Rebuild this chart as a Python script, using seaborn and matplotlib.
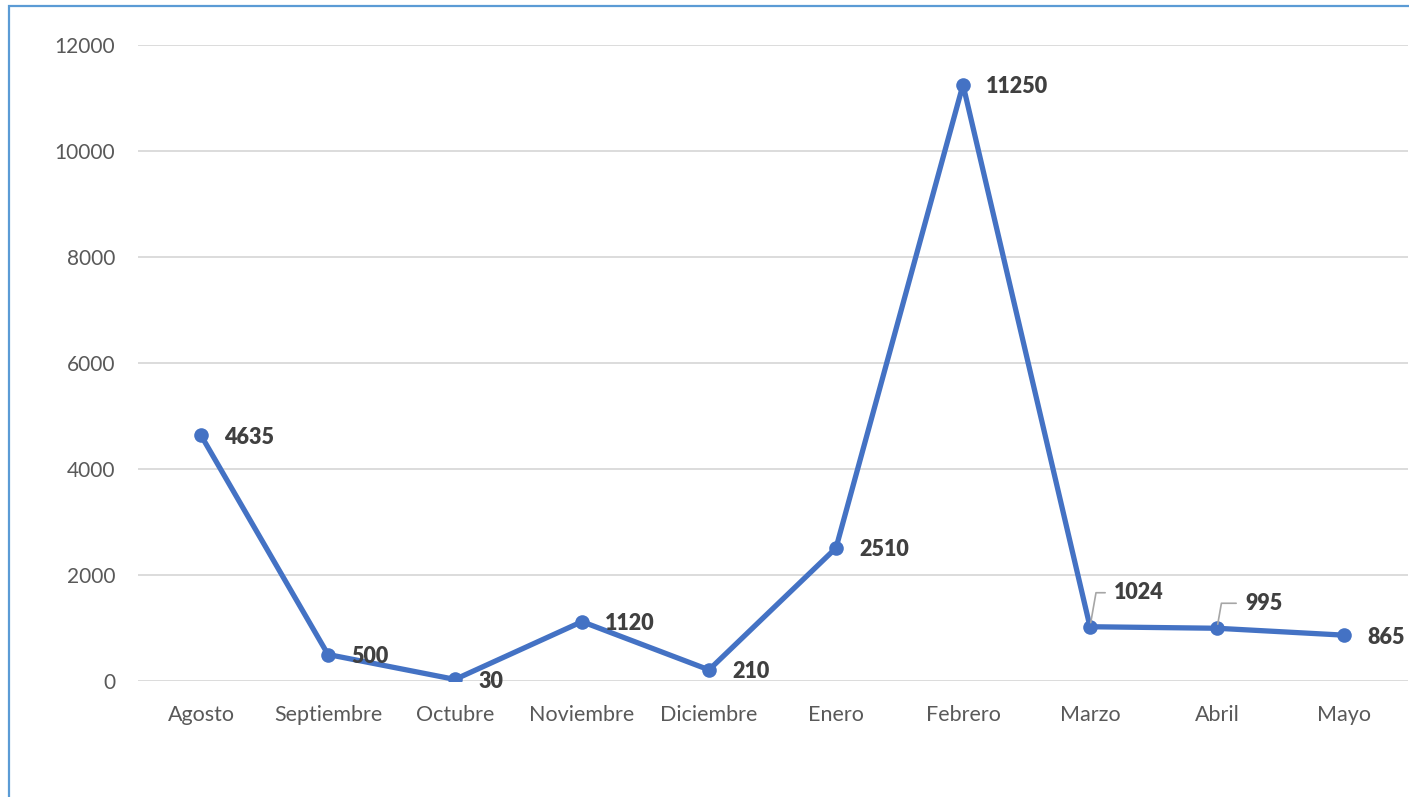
import matplotlib
matplotlib.use("Agg")
import matplotlib.pyplot as plt
import matplotlib.patches as mpatches
import seaborn as sns
import pandas as pd

months = ["Agosto", "Septiembre", "Octubre", "Noviembre", "Diciembre",
          "Enero", "Febrero", "Marzo", "Abril", "Mayo"]
values = [4635, 500, 30, 1120, 210, 2510, 11250, 1024, 995, 865]
y_ticks = [0, 2000, 4000, 6000, 8000, 10000, 12000]

sns.set_theme(style="white")
plt.rcParams['font.family'] = ['Lato', 'DejaVu Sans']

df = pd.DataFrame({"mes": months, "valor": values})

W, H = 1409, 797
fig = plt.figure(figsize=(W / 100, H / 100), dpi=100)
ax = fig.add_axes([137.5 / W, 1 - 681 / H, (1407.5 - 137.5) / W, (681 - 45) / H])

sns.lineplot(data=df, x="mes", y="valor", ax=ax, sort=False, color="#4472C4",
             linewidth=3.8, marker="o", markersize=10.5, markeredgewidth=0,
             zorder=3)

ax.set_xlim(-0.5, len(months) - 0.5)
ax.set_ylim(0, 12000)
ax.set_yticks(y_ticks)
ax.set_yticklabels([str(t) for t in y_ticks])
ax.set_xlabel("")
ax.set_ylabel("")
for s in ax.spines.values():
    s.set_visible(False)
ax.yaxis.grid(True, color="#D9D9D9", linewidth=1.3)
ax.xaxis.grid(False)
ax.tick_params(axis="both", length=0, labelcolor="#595959")
ax.tick_params(axis="x", pad=17.5, labelsize=15.5)
ax.tick_params(axis="y", pad=16, labelsize=15)

# label offsets in pixels (dx, dy)
offsets = {"Marzo": (24, 34), "Abril": (28, 25)}
for i, (m, v) in enumerate(zip(months, values)):
    dx, dy = offsets.get(m, (23, -2))
    kw = {}
    if m in offsets:
        kw["arrowprops"] = dict(arrowstyle="-", color="#A6A6A6", lw=1.2,
                                connectionstyle="angle,angleA=0,angleB=80,rad=0",
                                shrinkA=4, shrinkB=3)
    ax.annotate(str(v), xy=(i, v), xytext=(dx, dy), textcoords="offset pixels",
                ha="left", va="center", fontsize=15.5, fontweight="heavy",
                color="#404040", zorder=4, **kw)

border = mpatches.Rectangle((8.5 / W, -0.1), 1.2, 1.1 - 5.5 / H,
                            transform=fig.transFigure, fill=False,
                            edgecolor="#5B9BD5", linewidth=1.6, clip_on=False)
fig.patches.append(border)

fig.savefig("out.png", dpi=100)
